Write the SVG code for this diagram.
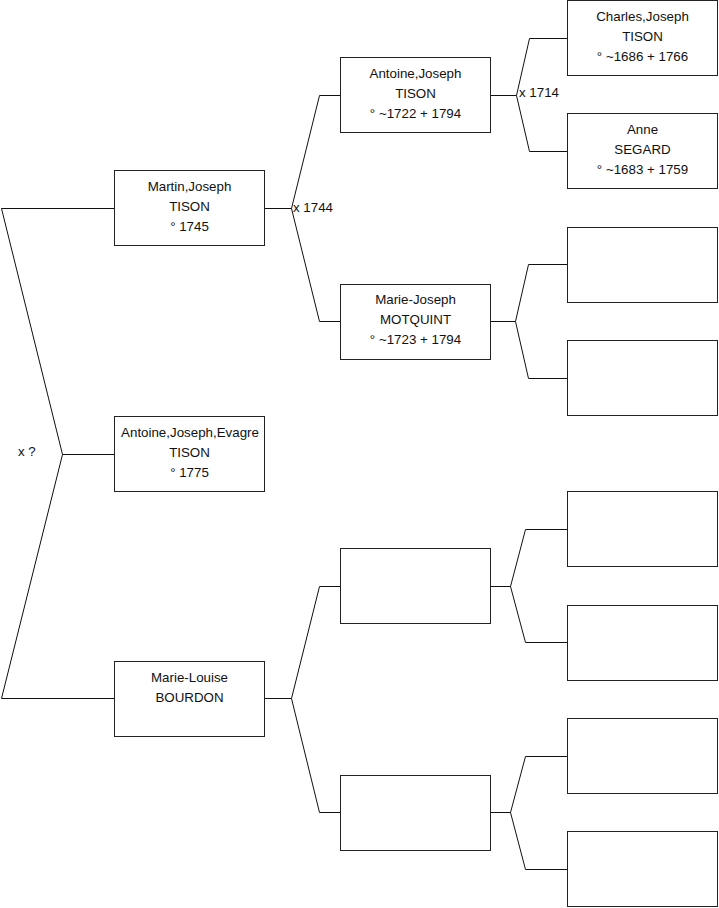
<svg xmlns="http://www.w3.org/2000/svg" width="719" height="908" viewBox="0 0 719 908">
<style>
.box{fill:#fff;stroke:#222;stroke-width:1}
.ln{fill:none;stroke:#111;stroke-width:1}
text{font-family:"Liberation Sans",Arial,sans-serif;font-size:13.33px;fill:#111}
.c{text-anchor:middle}
</style>
<rect width="719" height="908" fill="#fff"/>
<g id="connectors">
<polyline class="ln" points="114,208.5 1.5,208.5 62.5,454.5 1.5,698.5 114,698.5"/>
<line class="ln" x1="62.5" y1="454.5" x2="114" y2="454.5"/>
<polyline class="ln" points="340,95.5 319.5,95.5 291.5,208.5 319.5,321.5 340,321.5"/>
<line class="ln" x1="265" y1="208.5" x2="291.5" y2="208.5"/>
<polyline class="ln" points="567,38.5 529.5,38.5 516.5,95.5 529.5,151.5 567,151.5"/>
<line class="ln" x1="491" y1="95.5" x2="516.5" y2="95.5"/>
<polyline class="ln" points="567,264.5 528.5,264.5 515.5,321.5 528.5,378.5 567,378.5"/>
<line class="ln" x1="491" y1="321.5" x2="515.5" y2="321.5"/>
<polyline class="ln" points="340,586.5 319.5,586.5 291.5,698.5 319.5,812.5 340,812.5"/>
<line class="ln" x1="265" y1="698.5" x2="291.5" y2="698.5"/>
<polyline class="ln" points="567,529.5 525.5,529.5 510.5,586.5 525.5,642.5 567,642.5"/>
<line class="ln" x1="491" y1="586.5" x2="510.5" y2="586.5"/>
<polyline class="ln" points="567,756.5 525.5,756.5 510.5,812.5 525.5,869.5 567,869.5"/>
<line class="ln" x1="491" y1="812.5" x2="510.5" y2="812.5"/>
<text x="18" y="456">x ?</text>
<text x="293" y="212">x 1744</text>
<text x="519" y="97">x 1714</text>
</g>
<g id="martin"><rect class="box" x="114.5" y="170.5" width="150" height="75"/>
<text class="c" x="189.5" y="191">Martin,Joseph</text><text class="c" x="189.5" y="211">TISON</text><text class="c" x="189.5" y="231">° 1745</text></g>
<g id="antoine-evagre"><rect class="box" x="114.5" y="416.5" width="150" height="75"/>
<text class="c" x="190" y="437">Antoine,Joseph,Evagre</text><text class="c" x="189.5" y="457">TISON</text><text class="c" x="189.5" y="477">° 1775</text></g>
<g id="marie-louise"><rect class="box" x="114.5" y="661.5" width="150" height="75"/>
<text class="c" x="189.5" y="682">Marie-Louise</text><text class="c" x="189.5" y="702">BOURDON</text></g>
<g id="antoine-joseph"><rect class="box" x="340.5" y="57.5" width="150" height="75"/>
<text class="c" x="415.5" y="78">Antoine,Joseph</text><text class="c" x="415.5" y="98">TISON</text><text class="c" x="415.5" y="118">° ~1722 + 1794</text></g>
<g id="marie-joseph"><rect class="box" x="340.5" y="284.5" width="150" height="75"/>
<text class="c" x="415.5" y="304">Marie-Joseph</text><text class="c" x="415.5" y="324">MOTQUINT</text><text class="c" x="415.5" y="344">° ~1723 + 1794</text></g>
<g id="empty-m-father"><rect class="box" x="340.5" y="548.5" width="150" height="75"/></g>
<g id="empty-m-mother"><rect class="box" x="340.5" y="775.5" width="150" height="75"/></g>
<g id="charles"><rect class="box" x="567.5" y="0.5" width="150" height="75"/>
<text class="c" x="642.5" y="21">Charles,Joseph</text><text class="c" x="642.5" y="41">TISON</text><text class="c" x="642.5" y="61">° ~1686 + 1766</text></g>
<g id="anne"><rect class="box" x="567.5" y="113.5" width="150" height="75"/>
<text class="c" x="642.5" y="134">Anne</text><text class="c" x="642.5" y="154">SEGARD</text><text class="c" x="642.5" y="174">° ~1683 + 1759</text></g>
<g id="empty-3"><rect class="box" x="567.5" y="227.5" width="150" height="75"/></g>
<g id="empty-4"><rect class="box" x="567.5" y="340.5" width="150" height="75"/></g>
<g id="empty-5"><rect class="box" x="567.5" y="491.5" width="150" height="75"/></g>
<g id="empty-6"><rect class="box" x="567.5" y="605.5" width="150" height="75"/></g>
<g id="empty-7"><rect class="box" x="567.5" y="718.5" width="150" height="75"/></g>
<g id="empty-8"><rect class="box" x="567.5" y="831.5" width="150" height="75"/></g>
</svg>
